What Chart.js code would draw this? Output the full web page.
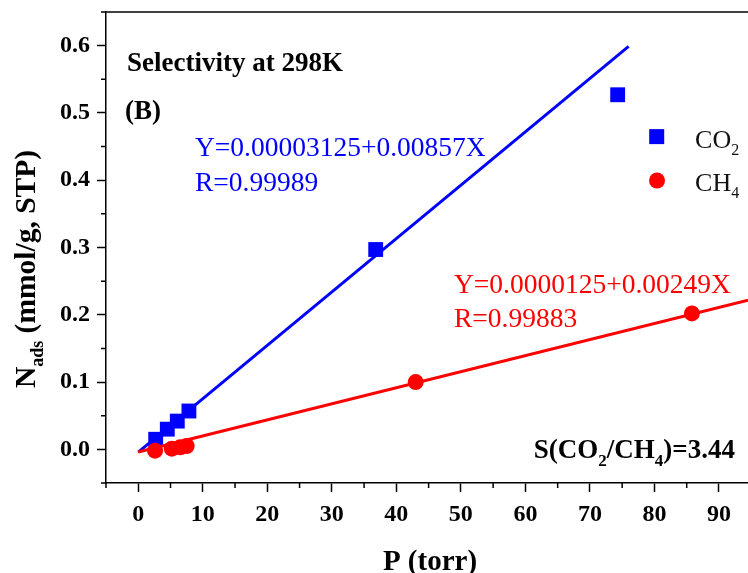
<!DOCTYPE html>
<html><head><meta charset="utf-8">
<script src="https://cdn.jsdelivr.net/npm/chart.js@4"></script>
<style>html,body{margin:0;padding:0;background:#fff;}#wrap{width:748px;height:573px;position:relative;}</style>
</head><body><div id="wrap"><canvas id="c" width="748" height="573"></canvas></div>
<script>
// ---- data ----
const co2P = [2.7, 4.5, 6.05, 7.85, 36.8, 74.3];
const co2N = [0.015, 0.030, 0.042, 0.057, 0.297, 0.527];
const ch4P = [2.6, 5.2, 6.5, 7.5, 43.0, 85.8];
const ch4N = [-0.002, 0.001, 0.003, 0.005, 0.100, 0.202];
const co2FitP = [0, 76.0];
const co2FitN = [-0.004, 0.599];
const ch4FitP = [0, 94.5];
const ch4FitN = [-0.004, 0.2215];
const xTicks = [0, 10, 20, 30, 40, 50, 60, 70, 80, 90];
const xMinorTicks = [-5, 5, 15, 25, 35, 45, 55, 65, 75, 85];
const yTicks = [0.0, 0.1, 0.2, 0.3, 0.4, 0.5, 0.6];
const yMinorTicks = [-0.05, 0.05, 0.15, 0.25, 0.35, 0.45, 0.55, 0.65];
const co2Label = 'CO₂';
const ch4Label = 'CH₄';

const BLUE = '#0000ff', RED = '#ff0000';
const SERIF = '"Liberation Serif", "Times New Roman", serif';

function pts(xs, ys){ return xs.map((x,i)=>({x:x, y:ys[i]})); }

// rich text: parts = [[text, isSub], ...]
function richWidth(ctx, parts, size, bold){
  let w = 0;
  for (const [t, sub] of parts){
    ctx.font = (bold?'bold ':'') + (sub? Math.round(size*0.62): size) + 'px ' + SERIF;
    w += ctx.measureText(t).width;
  }
  return w;
}
function drawRich(ctx, x, y, parts, size, bold, color, align){
  ctx.save();
  ctx.fillStyle = color;
  ctx.textBaseline = 'alphabetic';
  ctx.textAlign = 'left';
  let w = richWidth(ctx, parts, size, bold);
  let cx = x;
  if (align === 'center') cx = x - w/2;
  else if (align === 'right') cx = x - w;
  for (const [t, sub] of parts){
    const s = sub ? Math.round(size*0.62) : size;
    ctx.font = (bold?'bold ':'') + s + 'px ' + SERIF;
    ctx.fillText(t, cx, sub ? y + size*0.28 : y);
    cx += ctx.measureText(t).width;
  }
  ctx.restore();
}

const decor = {
  id: 'decor',
  afterDraw(chart){
    const ctx = chart.ctx, xs = chart.scales.x, ys = chart.scales.y, ca = chart.chartArea;
    ctx.save();
    ctx.strokeStyle = '#000';
    ctx.lineWidth = 1.5;
    // top frame
    ctx.beginPath(); ctx.moveTo(ca.left, ca.top); ctx.lineTo(ca.right, ca.top); ctx.stroke();
    // minor ticks
    ctx.beginPath();
    for (const v of xMinorTicks){ const p = xs.getPixelForValue(v); ctx.moveTo(p, ca.bottom); ctx.lineTo(p, ca.bottom + 5); }
    for (const v of yMinorTicks){ const p = ys.getPixelForValue(v); ctx.moveTo(ca.left, p); ctx.lineTo(ca.left - 5, p); }
    ctx.stroke();
    ctx.restore();

    const X = v => xs.getPixelForValue(v), Y = v => ys.getPixelForValue(v);
    drawRich(ctx, X(-1.75), Y(0.5628), [['Selectivity at 298K', false]], 27, true, '#000', 'left');
    drawRich(ctx, X(-2.06), Y(0.4916), [['(B)', false]], 27, true, '#000', 'left');
    drawRich(ctx, X(8.79), Y(0.4366), [['Y=0.00003125+0.00857X', false]], 27.5, false, BLUE, 'left');
    drawRich(ctx, X(8.79), Y(0.3847), [['R=0.99989', false]], 27.5, false, BLUE, 'left');
    drawRich(ctx, X(48.93), Y(0.2319), [['Y=0.0000125+0.00249X', false]], 27.5, false, RED, 'left');
    drawRich(ctx, X(48.93), Y(0.1815), [['R=0.99883', false]], 27.5, false, RED, 'left');
    drawRich(ctx, X(92.47), Y(-0.0129), [['S(CO', false], ['2', true], ['/CH', false], ['4', true], [')=3.44', false]], 27, true, '#000', 'right');

    // legend
    ctx.save();
    ctx.fillStyle = BLUE;
    const sq = 15;
    ctx.fillRect(X(80.35) - sq/2, Y(0.4648) - sq/2, sq, sq);
    ctx.fillStyle = RED;
    ctx.beginPath(); ctx.arc(X(80.4), Y(0.3996), 8, 0, Math.PI*2); ctx.fill();
    ctx.restore();
    drawRich(ctx, X(86.3), Y(0.4485), [[co2Label.slice(0,2), false], ['2', true]], 26, false, '#111', 'left');
    drawRich(ctx, X(86.3), Y(0.3847), [[ch4Label.slice(0,2), false], ['4', true]], 26, false, '#111', 'left');

    // axis titles
    drawRich(ctx, 430, 570, [['P (torr)', false]], 29, true, '#000', 'center');
    ctx.save();
    ctx.translate(35, 269);
    ctx.rotate(-Math.PI/2);
    drawRich(ctx, 0, 0, [['N', false], ['ads', true], [' (mmol/g, STP)', false]], 29.5, true, '#000', 'center');
    ctx.restore();
  }
};

new Chart(document.getElementById('c'), {
  type: 'scatter',
  data: {
    datasets: [
      {label:'CH4 fit', data: pts(ch4FitP, ch4FitN), showLine:true, borderColor:RED, borderWidth:3, pointRadius:0, order:2},
      {label:ch4Label, data: pts(ch4P, ch4N), showLine:false, backgroundColor:RED, borderColor:RED, pointStyle:'circle', pointRadius:8, borderWidth:0, order:1},
      {label:'CO2 fit', data: pts(co2FitP, co2FitN), showLine:true, borderColor:BLUE, borderWidth:3, pointRadius:0, order:4},
      {label:co2Label, data: pts(co2P, co2N), showLine:false, backgroundColor:BLUE, borderColor:BLUE, pointStyle:'rect', pointRadius:10.5, borderWidth:0, order:3}
    ]
  },
  options: {
    responsive:false, animation:false,
    layout:{autoPadding:false, padding:{top:12, right:0, bottom:0, left:0}},
    plugins:{legend:{display:false}, tooltip:{enabled:false}},
    scales:{
      x:{type:'linear', min:-5, max:94.5,
        afterBuildTicks: s => { s.ticks = xTicks.map(v=>({value:v})); },
        afterFit: s => { s.height = 90; s.paddingLeft = 0; s.paddingRight = 0; },
        grid:{display:true, drawOnChartArea:false, drawTicks:true, tickLength:9, tickWidth:1.5, tickColor:'#000'},
        border:{display:true, color:'#000', width:1.5},
        ticks:{color:'#000', padding:8, maxRotation:0, font:{family:SERIF, size:24, weight:'bold'}, callback: v => String(v)}
      },
      y:{type:'linear', min:-0.05, max:0.65,
        afterBuildTicks: s => { s.ticks = yTicks.map(v=>({value:v})); },
        afterFit: s => { s.width = 106; s.paddingTop = 0; s.paddingBottom = 0; },
        grid:{display:true, drawOnChartArea:false, drawTicks:true, tickLength:9, tickWidth:1.5, tickColor:'#000'},
        border:{display:true, color:'#000', width:1.5},
        ticks:{color:'#000', padding:7, font:{family:SERIF, size:24, weight:'bold'}, callback: v => Number(v).toFixed(1)}
      }
    }
  },
  plugins:[decor]
});
</script>
</body></html>
